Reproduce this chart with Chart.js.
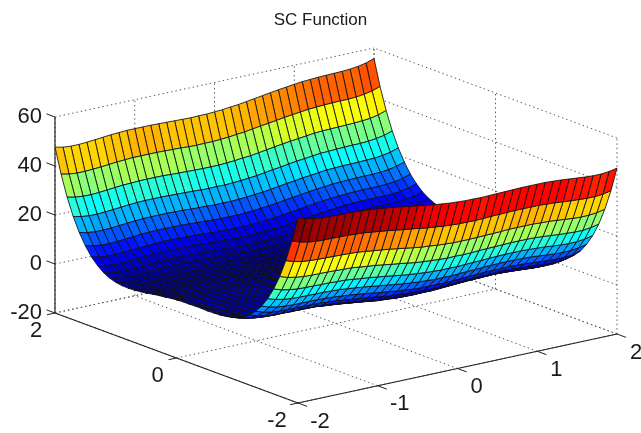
<!DOCTYPE html>
<html>
  <head>
    <script src="https://cdn.jsdelivr.net/npm/chart.js@4/dist/chart.umd.js"></script>
    <style>
      html, body { margin: 0; background: #fff; }
      #wrap { width: 641px; height: 433px; }
    </style>
  </head>

  <body>
    <div id="wrap"><canvas id="canvas" width="641" height="433"></canvas></div>
    <script>
      const titleText = 'SC Function';
      const xTicks = [-2, -1, 0, 1, 2];
      const yTicks = [-2, 0, 2];
      const zTicks = [-20, 0, 20, 40, 60];
      const xGrid = [-2,-1.9,-1.8,-1.7,-1.6,-1.5,-1.4,-1.3,-1.2,-1.1,-1,-0.9,-0.8,-0.7,-0.6,-0.5,-0.4,-0.3,-0.2,-0.1,0,0.1,0.2,0.3,0.4,0.5,0.6,0.7,0.8,0.9,1,1.1,1.2,1.3,1.4,1.5,1.6,1.7,1.8,1.9,2];
      const yGrid = [2,1.9,1.8,1.7,1.6,1.5,1.4,1.3,1.2,1.1,1,0.9,0.8,0.7,0.6,0.5,0.4,0.3,0.2,0.1,0,-0.1,-0.2,-0.3,-0.4,-0.5,-0.6,-0.7,-0.8,-0.9,-1,-1.1,-1.2,-1.3,-1.4,-1.5,-1.6,-1.7,-1.8,-1.9,-2];

      // surface height in tenths, one row per yGrid entry, one column per xGrid entry
      const zTenths = [
        [477,470,467,467,469,472,475,478,480,482,482,482,482,481,480,479,478,477,478,478,480,482,486,489,494,499,504,509,514,518,522,526,528,530,531,532,533,535,539,546,557],
        [376,369,366,366,368,370,373,376,378,380,380,380,380,379,378,377,375,374,375,375,377,379,383,386,391,396,400,405,410,414,418,422,424,426,427,428,428,430,434,441,452],
        [291,284,281,280,282,285,288,291,292,294,294,294,294,292,291,290,289,288,288,288,290,292,296,298,303,308,313,318,322,326,330,334,336,337,338,339,340,342,345,352,363],
        [221,214,210,210,212,214,217,220,222,223,223,223,222,221,220,219,217,216,217,216,218,220,223,226,231,236,240,245,250,253,257,261,262,264,265,266,266,268,272,278,289],
        [165,158,154,154,155,158,161,163,165,166,166,166,165,164,162,161,160,158,159,158,160,162,165,168,172,177,182,186,191,194,198,202,203,205,205,206,207,208,212,218,229],
        [120,113,109,108,110,112,115,118,119,121,120,120,119,118,116,115,113,111,112,111,113,115,118,121,125,130,134,139,143,147,150,154,155,157,157,158,158,160,163,170,180],
        [84,76,73,72,74,76,78,81,82,84,83,82,82,80,79,77,75,74,74,74,75,76,80,82,87,91,95,100,104,108,111,114,116,117,118,118,118,120,123,130,140],
        [58,50,47,46,47,50,52,54,55,57,56,55,55,53,51,50,48,46,46,46,47,48,52,54,58,63,67,71,75,79,82,85,87,88,88,89,89,90,93,100,110],
        [38,30,26,26,27,29,31,33,35,36,35,34,33,32,30,28,26,24,25,24,25,26,29,32,36,40,44,48,53,56,59,62,63,65,65,65,65,66,70,76,86],
        [25,17,13,12,13,16,18,20,21,22,21,20,19,17,15,14,12,10,10,9,10,11,14,16,20,25,29,33,37,40,43,47,47,48,48,49,49,50,53,59,69],
        [17,9,5,4,5,7,9,11,12,13,12,11,10,8,6,4,2,0,0,-1,0,1,4,6,10,14,18,22,26,29,32,35,36,37,37,37,37,38,41,47,57],
        [13,5,1,0,1,3,4,6,7,8,7,6,5,3,1,-1,-4,-6,-6,-7,-6,-5,-2,0,4,8,11,15,19,22,25,28,29,30,30,30,29,30,33,39,49],
        [12,4,0,-2,-1,1,3,5,5,6,5,4,3,0,-2,-4,-6,-8,-9,-10,-9,-8,-5,-4,0,4,8,12,15,18,21,24,25,25,25,25,25,26,28,34,44],
        [13,5,0,-1,0,2,3,5,6,6,5,4,2,0,-2,-4,-7,-9,-9,-11,-10,-9,-7,-5,-1,3,6,10,13,16,19,22,22,23,23,23,22,23,26,31,41],
        [16,8,3,2,2,4,6,7,8,8,7,6,4,2,-1,-3,-5,-8,-8,-10,-9,-8,-6,-4,-1,3,7,10,14,16,19,22,22,23,22,22,22,22,25,30,40],
        [19,11,6,5,5,7,8,10,10,11,9,8,6,4,1,-1,-4,-6,-7,-9,-8,-7,-5,-3,0,4,7,11,14,17,19,21,22,23,22,22,21,22,24,29,39],
        [24,15,11,9,10,11,12,14,14,15,13,11,10,7,5,2,-1,-3,-4,-5,-5,-5,-2,-1,3,6,9,13,16,19,21,23,24,24,24,23,22,23,25,31,40],
        [28,19,15,13,13,15,16,17,17,18,16,14,13,10,7,5,2,-1,-2,-3,-3,-3,0,1,4,8,11,14,17,20,22,24,25,25,24,24,23,23,25,31,40],
        [31,22,17,16,16,17,18,19,20,20,18,16,14,12,9,6,3,0,0,-2,-2,-2,0,2,5,8,11,14,18,20,22,24,24,25,24,23,22,22,24,30,39],
        [35,26,21,19,19,21,22,23,23,23,21,19,17,14,11,9,6,3,2,0,0,0,2,3,6,10,13,16,19,21,23,25,25,25,24,24,23,23,25,30,39],
        [37,28,23,21,21,22,23,24,24,24,22,20,18,15,12,9,6,3,2,0,0,0,2,3,6,9,12,15,18,20,22,24,24,24,23,22,21,21,23,28,37],
        [39,30,25,23,23,24,25,25,25,25,23,21,19,16,13,10,6,3,2,0,0,0,2,3,6,9,11,14,17,19,21,23,23,23,22,21,19,19,21,26,35],
        [39,30,24,22,22,23,24,25,24,24,22,20,18,14,11,8,5,2,0,-2,-2,-2,0,0,3,6,9,12,14,16,18,20,20,19,18,17,16,16,17,22,31],
        [40,31,25,23,23,24,24,25,25,24,22,20,17,14,11,8,4,1,0,-3,-3,-3,-2,-1,2,5,7,10,13,14,16,18,17,17,16,15,13,13,15,19,28],
        [40,31,25,23,22,23,24,24,24,23,21,19,16,13,9,6,3,-1,-2,-5,-5,-5,-4,-3,-1,2,5,7,10,11,13,15,14,14,14,11,10,9,11,15,24],
        [39,29,24,22,21,22,23,22,22,21,19,17,14,11,7,4,0,-3,-5,-7,-8,-9,-7,-6,-4,-1,1,4,6,8,9,11,10,10,8,7,5,5,6,11,19],
        [40,30,25,22,22,22,23,22,22,22,19,16,14,10,7,3,-1,-4,-6,-8,-9,-10,-8,-8,-5,-3,-1,2,4,6,7,8,8,7,6,4,2,2,3,8,16],
        [41,31,26,23,22,23,23,23,22,22,19,16,13,10,6,3,-1,-5,-7,-9,-10,-11,-9,-9,-7,-4,-2,0,2,4,5,6,6,5,3,2,0,-1,0,5,13],
        [44,34,28,26,25,25,25,25,25,24,21,18,15,12,8,4,0,-4,-5,-8,-9,-10,-9,-8,-6,-4,-2,0,3,4,5,6,5,5,3,1,-1,-2,0,4,12],
        [49,39,33,30,29,30,30,30,29,28,25,22,19,15,11,8,4,0,-2,-5,-6,-7,-6,-6,-4,-1,1,3,5,6,7,8,7,6,4,3,1,0,1,5,13],
        [57,47,41,38,37,37,37,37,36,35,32,29,26,22,18,14,10,6,4,1,0,-1,0,0,2,4,6,8,10,11,12,13,12,11,9,7,5,4,5,9,17],
        [69,59,53,50,49,49,48,48,47,47,43,40,37,33,29,25,20,16,14,11,10,9,10,10,12,14,15,17,19,20,21,22,21,20,18,16,13,12,13,17,25],
        [86,76,70,66,65,65,65,65,63,62,59,56,53,48,44,40,36,32,29,26,25,24,25,24,26,28,30,32,33,34,35,36,35,33,31,29,27,26,26,30,38],
        [110,100,93,90,89,89,88,88,87,85,82,79,75,71,67,63,58,54,52,48,47,46,46,46,48,50,51,53,55,55,56,57,55,54,52,50,47,46,47,50,58],
        [140,130,123,120,118,118,118,117,116,114,111,108,104,100,95,91,87,82,80,76,75,74,74,74,75,77,79,80,82,82,83,84,82,81,78,76,74,72,73,76,84],
        [180,170,163,160,158,158,157,157,155,154,150,147,143,139,134,130,125,121,118,115,113,111,112,111,113,115,116,118,119,120,120,121,119,118,115,112,110,108,109,113,120],
        [229,218,212,208,207,206,205,205,203,202,198,194,191,186,182,177,172,168,165,162,160,158,159,158,160,161,162,164,165,166,166,166,165,163,161,158,155,154,154,158,165],
        [289,278,272,268,266,266,265,264,262,261,257,253,250,245,240,236,231,226,223,220,218,216,217,216,217,219,220,221,222,223,223,223,222,220,217,214,212,210,210,214,221],
        [363,352,345,342,340,339,338,337,336,334,330,326,322,318,313,308,303,298,296,292,290,288,288,288,289,290,291,292,294,294,294,294,292,291,288,285,282,280,281,284,291],
        [452,441,434,430,428,428,427,426,424,422,418,414,410,405,400,396,391,386,383,379,377,375,375,374,375,377,378,379,380,380,380,380,378,376,373,370,368,366,366,369,376],
        [557,546,539,535,533,532,531,530,528,526,522,518,514,509,504,499,494,489,486,482,480,478,478,477,478,479,480,481,482,482,482,482,480,478,475,472,469,467,467,470,477],
      ];

      // view of the box
      const U0 = 336, V0 = 323.5, UX = 79.75, UY = -60.75, VX = -17.25, VY = -22.5, VZ = 2.45;
      const projU = (x, y) => U0 + UX * x + UY * y;
      const projV = (x, y, z) => V0 + VX * x + VY * y - VZ * (z + 20);
      const pt = (x, y, z) => ({ x: projU(x, y), y: projV(x, y, z) });

      // jet colormap, 64 steps
      const zMin = -1.1, zMax = 55.7;
      function jet(z) {
        const n = Math.min(63, Math.floor(((z - zMin) / (zMax - zMin)) * 64));
        const t = n / 63;
        const c = (v) => Math.round(255 * Math.max(0, Math.min(1, 1.5 - Math.abs(4 * t - v))));
        return `rgb(${c(3)},${c(2)},${c(1)})`;
      }

      const segment = (points, color, width, dash) => ({
        data: points,
        showLine: true,
        fill: false,
        borderColor: color,
        borderWidth: width,
        borderDash: dash,
        pointRadius: 0,
      });

      // painted in this order, back to front
      const paint = [];
      const DOT = '#555';
      const dots = [1.4, 3];
      for (const x of xTicks) {
        paint.push(segment([pt(x, -2, -20), pt(x, 2, -20)], DOT, 1, dots));
        paint.push(segment([pt(x, 2, -20), pt(x, 2, 60)], DOT, 1, dots));
      }
      for (const y of yTicks) {
        paint.push(segment([pt(-2, y, -20), pt(2, y, -20)], DOT, 1, dots));
        paint.push(segment([pt(2, y, -20), pt(2, y, 60)], DOT, 1, dots));
      }
      for (const z of zTicks) {
        paint.push(segment([pt(-2, 2, z), pt(2, 2, z)], DOT, 1, dots));
        paint.push(segment([pt(2, -2, z), pt(2, 2, z)], DOT, 1, dots));
      }

      const AXIS = '#222';
      paint.push(segment([pt(-2, 2, -20), pt(-2, -2, -20)], AXIS, 1.2));
      paint.push(segment([pt(-2, -2, -20), pt(2, -2, -20)], AXIS, 1.2));
      paint.push(segment([pt(-2, 2, -20), pt(-2, 2, 60)], AXIS, 1.2));
      for (const x of xTicks) paint.push(segment([pt(x, -2, -20), pt(x, -2.15, -20)], AXIS, 1));
      for (const y of yTicks) paint.push(segment([pt(-2, y, -20), pt(-2.1, y, -20)], AXIS, 1));
      for (const z of zTicks) paint.push(segment([pt(-2, 2, z), pt(-2, 2.14, z)], AXIS, 1));

      for (let r = 0; r < yGrid.length - 1; r++) {
        for (let c = xGrid.length - 2; c >= 0; c--) {
          const corners = [[r, c], [r, c + 1], [r + 1, c + 1], [r + 1, c], [r, c]];
          paint.push({
            data: corners.map(([a, b]) => pt(xGrid[b], yGrid[a], zTenths[a][b] / 10)),
            showLine: true,
            fill: 'shape',
            backgroundColor: jet(zTenths[r + 1][c] / 10),
            borderColor: 'rgba(15,15,25,0.85)',
            borderWidth: 1,
            pointRadius: 0,
          });
        }
      }

      const tickText = {
        id: 'tickText',
        afterDraw(chart) {
          const { ctx, scales } = chart;
          const put = (text, p, dx, dy, align) => {
            ctx.textAlign = align;
            ctx.fillText(text, scales.x.getPixelForValue(p.x) + dx, scales.y.getPixelForValue(p.y) + dy);
          };
          ctx.save();
          ctx.font = '22px "Liberation Sans"';
          ctx.fillStyle = '#1a1a1a';
          ctx.textBaseline = 'middle';
          for (const z of zTicks) put(String(z), pt(-2, 2, z), -13, 0, 'right');
          for (const y of yTicks) put(String(y), pt(-2, y, -20), y < 0 ? -21 : -19, 17.5, 'center');
          for (const x of xTicks) put(String(x), pt(x, -2, -20), x < 0 ? 22 : 19, 18.5, 'center');
          ctx.restore();
        },
      };

      new Chart(document.getElementById('canvas').getContext('2d'), {
        type: 'scatter',
        data: { datasets: paint.reverse() },
        plugins: [tickText],
        options: {
          responsive: false,
          animation: false,
          events: [],
          layout: { padding: 0 },
          plugins: {
            legend: { display: false },
            tooltip: { enabled: false },
            title: {
              display: true,
              text: titleText,
              color: '#1a1a1a',
              font: { family: '"Liberation Sans"', size: 17, weight: 'normal', lineHeight: 1.2 },
              padding: { top: 10, bottom: 9.6 },
            },
          },
          scales: {
            x: { type: 'linear', display: false, min: 0, max: 641 },
            y: { type: 'linear', display: false, min: 40, max: 433, reverse: true },
          },
        },
      });
    </script>
  </body>
</html>
